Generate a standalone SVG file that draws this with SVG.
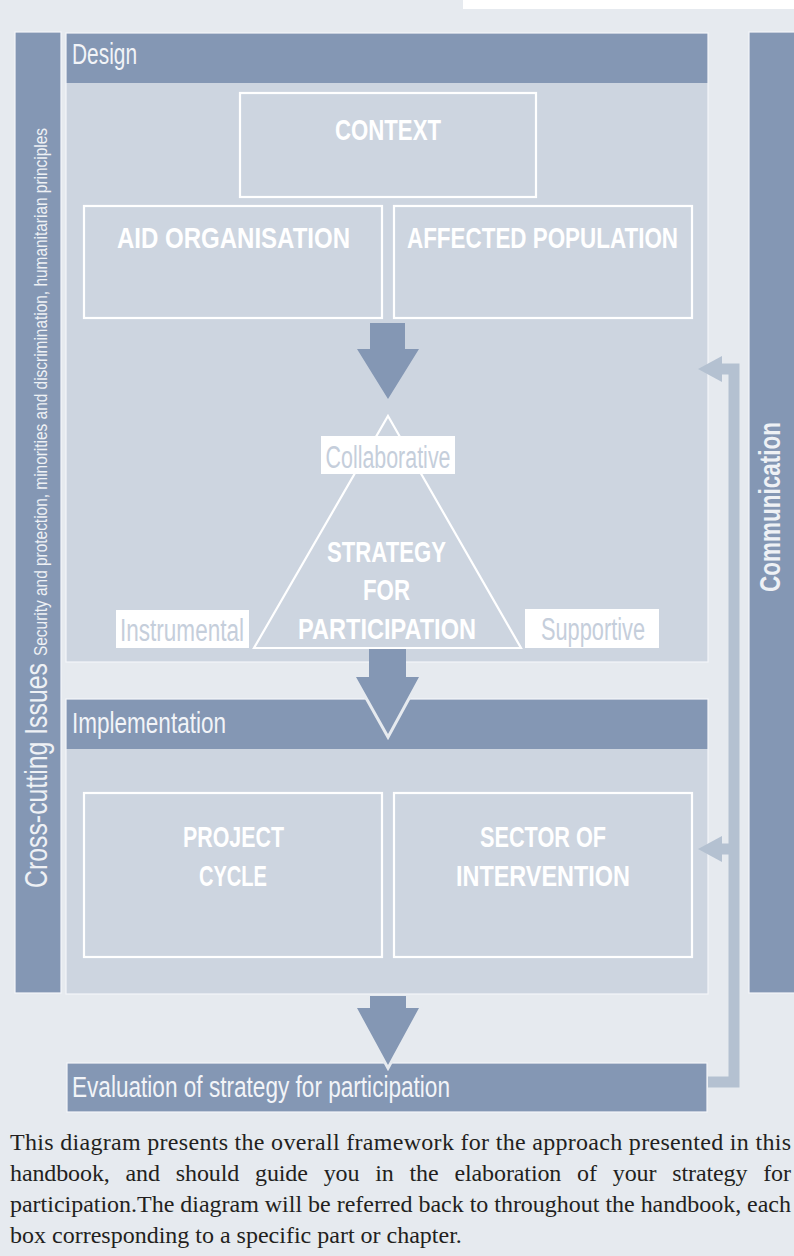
<svg xmlns="http://www.w3.org/2000/svg" width="794" height="1256" viewBox="0 0 794 1256">
<style>
.bar{fill:#8497b4}
.edge{fill:none;stroke:#f3f5f8;stroke-width:1.2}
.body{fill:#cdd5e0}
.box{fill:none;stroke:#ffffff;stroke-width:2.2}
.hd{font-family:"Liberation Sans",Arial,sans-serif;font-size:29px;fill:#f2f4f8}
.bt{font-family:"Liberation Sans",Arial,sans-serif;font-size:30px;font-weight:bold;fill:#ffffff;text-anchor:middle}
.lb{fill:#ffffff}
.lt{font-family:"Liberation Sans",Arial,sans-serif;font-size:31px;fill:#c5cedb;text-anchor:middle}
.arrow{fill:#8497b4}
.halo{fill:#e6eaef;stroke:#e6eaef;stroke-width:6;stroke-linejoin:miter;stroke-miterlimit:10}
.conn{fill:none;stroke:#b4c1d1;stroke-width:11;stroke-linejoin:miter}
.connhead{fill:#b4c1d1}
.side{font-family:"Liberation Sans",Arial,sans-serif;fill:#eef1f5}
.cap{font-family:"Liberation Serif","Times New Roman",serif;font-size:24px;fill:#231f20}
</style>
<rect x="0" y="0" width="794" height="1256" fill="#e6eaef"/>
<rect x="463" y="0" width="331" height="9" fill="#ffffff"/>

<g id="cross-cutting">
<rect x="15" y="32" width="46" height="961" class="bar"/>
<rect x="15" y="32" width="46" height="961" class="edge"/>
<text class="side" font-size="31" transform="translate(47,888) rotate(-90)" x="0" y="0" textLength="225" lengthAdjust="spacingAndGlyphs">Cross-cutting Issues</text>
<text class="side" font-size="19" transform="translate(47,656) rotate(-90)" x="0" y="0" textLength="528" lengthAdjust="spacingAndGlyphs">Security and protection, minorities and discrimination, humanitarian principles</text>
</g>

<g id="communication">
<rect x="749" y="32" width="50" height="961" class="bar"/>
<rect x="749" y="32" width="50" height="961" class="edge"/>
<text class="side" font-size="30" font-weight="bold" text-anchor="middle" transform="translate(780,507) rotate(-90)" x="0" y="0" textLength="170" lengthAdjust="spacingAndGlyphs">Communication</text>
</g>

<g id="design">
<rect x="66" y="33" width="642" height="629" class="body"/>
<rect x="66" y="33" width="642" height="50" class="bar"/>
<rect x="66" y="33" width="642" height="629" class="edge"/>
<text class="hd" x="72" y="64" textLength="65" lengthAdjust="spacingAndGlyphs">Design</text>
</g>

<g id="context">
<rect x="240" y="93" width="296" height="104" class="box"/>
<text class="bt" x="388" y="140" textLength="106" lengthAdjust="spacingAndGlyphs">CONTEXT</text>
</g>
<g id="aid-organisation">
<rect x="84" y="206" width="298" height="112" class="box"/>
<text class="bt" x="233.5" y="248" textLength="233" lengthAdjust="spacingAndGlyphs">AID ORGANISATION</text>
</g>
<g id="affected-population">
<rect x="394" y="206" width="298" height="112" class="box"/>
<text class="bt" x="542.5" y="248" textLength="271" lengthAdjust="spacingAndGlyphs">AFFECTED POPULATION</text>
</g>

<g id="strategy">
<polygon points="388,416 521,648 254,648" fill="none" stroke="#ffffff" stroke-width="2.2"/>
<text class="bt" x="386.5" y="562" textLength="119" lengthAdjust="spacingAndGlyphs">STRATEGY</text>
<text class="bt" x="386.5" y="600" textLength="47" lengthAdjust="spacingAndGlyphs">FOR</text>
<text class="bt" x="387" y="639" textLength="178" lengthAdjust="spacingAndGlyphs">PARTICIPATION</text>
</g>
<g id="collaborative">
<rect x="321" y="436" width="134" height="38" class="lb"/>
<text class="lt" x="388" y="468" textLength="125" lengthAdjust="spacingAndGlyphs">Collaborative</text>
</g>
<g id="instrumental">
<rect x="116" y="610" width="133" height="38" class="lb"/>
<text class="lt" x="182" y="641" textLength="124" lengthAdjust="spacingAndGlyphs">Instrumental</text>
</g>
<g id="supportive">
<rect x="525" y="609" width="134" height="39" class="lb"/>
<text class="lt" x="593" y="640" textLength="104" lengthAdjust="spacingAndGlyphs">Supportive</text>
</g>

<g id="implementation">
<rect x="66" y="699" width="642" height="295" class="body"/>
<rect x="66" y="699" width="642" height="50" class="bar"/>
<rect x="66" y="699" width="642" height="295" class="edge"/>
<text class="hd" x="72" y="733" textLength="154" lengthAdjust="spacingAndGlyphs">Implementation</text>
</g>
<g id="project-cycle">
<rect x="84" y="793" width="298" height="164" class="box"/>
<text class="bt" x="233.5" y="847" textLength="101" lengthAdjust="spacingAndGlyphs">PROJECT</text>
<text class="bt" x="233" y="886" textLength="68" lengthAdjust="spacingAndGlyphs">CYCLE</text>
</g>
<g id="sector-of-intervention">
<rect x="394" y="793" width="298" height="164" class="box"/>
<text class="bt" x="543" y="847" textLength="126" lengthAdjust="spacingAndGlyphs">SECTOR OF</text>
<text class="bt" x="543" y="886" textLength="174" lengthAdjust="spacingAndGlyphs">INTERVENTION</text>
</g>

<g id="evaluation">
<rect x="67" y="1063" width="640" height="49" class="bar"/>
<rect x="67" y="1063" width="640" height="49" class="edge"/>
<text class="hd" font-size="30" x="72" y="1097" textLength="378" lengthAdjust="spacingAndGlyphs">Evaluation of strategy for participation</text>
</g>

<g id="connectors">
<polygon class="arrow" points="370,323 405,323 405,349 419,349 388,399 357,349 370,349"/>
<polygon class="halo" points="356,677 419,677 388,734"/>
<polygon class="arrow" points="369,649 406,649 406,677 419,677 388,734 356,677 369,677"/>
<polygon class="halo" points="357,1008 419,1008 388,1065"/>
<polygon class="arrow" points="370,996 406,996 406,1008 419,1008 388,1065 357,1008 370,1008"/>
<path class="conn" d="M720,369 H734 V1082 H708"/>
<path class="conn" d="M720,849 H734"/>
<polygon class="connhead" points="698,369 722,356 722,382"/>
<polygon class="connhead" points="698,849 722,836 722,862"/>
</g>

<g id="caption">
<text class="cap" x="10" y="1150" textLength="781" lengthAdjust="spacing">This diagram presents the overall framework for the approach presented in this</text>
<text class="cap" x="10" y="1181" word-spacing="10" textLength="781" lengthAdjust="spacing">handbook, and should guide you in the elaboration of your strategy for</text>
<text class="cap" x="10" y="1212" textLength="781" lengthAdjust="spacing">participation.The diagram will be referred back to throughout the handbook, each</text>
<text class="cap" x="10" y="1243">box corresponding to a specific part or chapter.</text>
</g>
</svg>
